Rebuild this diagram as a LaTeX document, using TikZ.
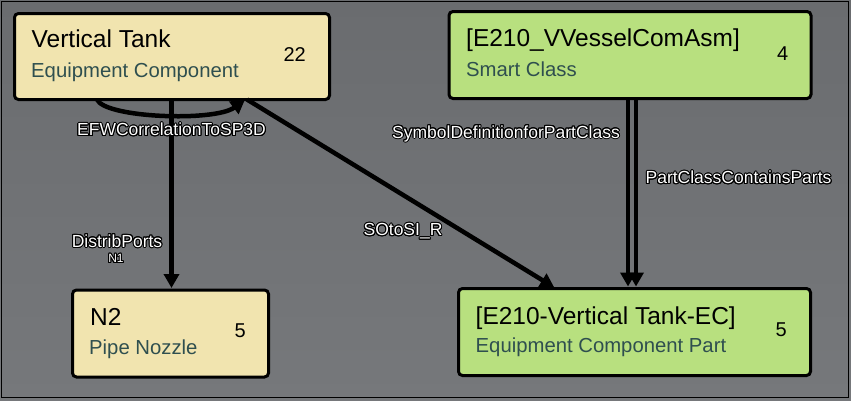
\documentclass[tikz,border=0pt]{standalone}
\usepackage{fontspec}
\setmainfont{Liberation Sans}
\usepackage[copies]{contour}
\contourlength{1pt}
\usetikzlibrary{arrows.meta,calc}
\definecolor{cream}{HTML}{F1E4AF}
\definecolor{lgreen}{HTML}{B8E07F}
\definecolor{subcol}{HTML}{2F4F4F}
\definecolor{bgtop}{HTML}{6A6C6F}
\definecolor{bgbot}{HTML}{76787B}
\tikzset{
  box/.style={draw=black, line width=3pt, rounded corners=4pt, anchor=north west, inner sep=0pt, outer sep=0pt},
  ttl/.style={anchor=base west, inner sep=0pt, font=\fontsize{24.5}{27}\selectfont, text=black},
  sub/.style={anchor=base west, inner sep=0pt, font=\fontsize{20.3}{22}\selectfont, text=subcol},
  cnt/.style={anchor=base east, inner sep=0pt, font=\fontsize{20}{22}\selectfont, text=black},
  lbl/.style={inner sep=0pt, font=\fontsize{17.5}{19}\selectfont, text=white},
  slbl/.style={inner sep=0pt, font=\fontsize{12}{13}\selectfont, text=white},
  conn/.style={line width=4.5pt, draw=black, -{Triangle[length=14pt,width=15pt]}, shorten >=2pt}
}
\begin{document}
\begin{tikzpicture}[x=1pt,y=-1pt]
\useasboundingbox (0,0) rectangle (851,400);
\shade[top color=bgtop, bottom color=bgbot] (0,0) rectangle (851,400);
\draw[black, line width=1.5pt] (1.5,1.5) rectangle (848.5,397.5);

% boxes
\node[box, fill=cream, minimum width=315pt, minimum height=86pt] (vt) at (14.5,13.5) {};
\node[box, fill=lgreen, minimum width=362pt, minimum height=87pt] (sc) at (449,11.5) {};
\node[box, fill=cream, minimum width=196pt, minimum height=87pt] (n2) at (72.5,290) {};
\node[box, fill=lgreen, minimum width=352pt, minimum height=87pt] (ec) at (458.5,288.5) {};

% texts
\node[ttl] (vtT) at (31.5,47.5) {Vertical Tank};
\node[sub] (vtS) at (31,77) {Equipment Component};
\node[cnt] (vtC) at (306,61.5) {22};

\node[ttl] (scT) at (466,46.5) {[E210\_VVesselComAsm]};
\node[sub] (scS) at (466,76) {Smart Class};
\node[cnt] (scC) at (788.5,60) {4};

\node[ttl] (n2T) at (90,325) {N2};
\node[sub] (n2S) at (89,354) {Pipe Nozzle};
\node[cnt] (n2C) at (246,337.5) {5};

\node[ttl] (ecT) at (475.5,324.3) {[E210-Vertical Tank-EC]};
\node[sub] (ecS) at (475.5,352.7) {Equipment Component Part};
\node[cnt] (ecC) at (787,336.7) {5};

% x positions of connectors
\coordinate (xa) at (97,0);
\coordinate (xb) at (245,0);
\coordinate (xc) at (171.5,0);
\coordinate (xd) at (247,0);
\coordinate (xe) at (556,0);
\coordinate (xf) at (628,0);
\coordinate (xg) at (636,0);

% connectors
\draw[conn, shorten >=0pt] (vt.south -| xa) .. controls (105,118) and (215,122) .. (vt.south -| xb);
\draw[conn] (vt.south -| xc) -- (n2.north -| xc);
\draw[conn] (vt.south -| xd) -- (ec.north -| xe);
\draw[conn] (sc.south -| xf) -- (ec.north -| xf);
\draw[conn] (sc.south -| xg) -- (ec.north -| xg);

% labels
\node[lbl] (l1) at (171.5,130) {\contour{black}{EFWCorrelationToSP3D}};
\node[lbl] (l2) at (117,241.5) {\contour{black}{DistribPorts}};
\node[slbl] (l2b) at (116,259) {\contour{black}{N1}};
\node[lbl] (l3) at (403,232) {\contour{black}{SOtoSI\_R}};
\node[lbl] (l4) at (506,134) {\contour{black}{SymbolDefinitionforPartClass}};
\node[lbl] (l5) at (738.5,178) {\contour{black}{PartClassContainsParts}};
\end{tikzpicture}
\end{document}
